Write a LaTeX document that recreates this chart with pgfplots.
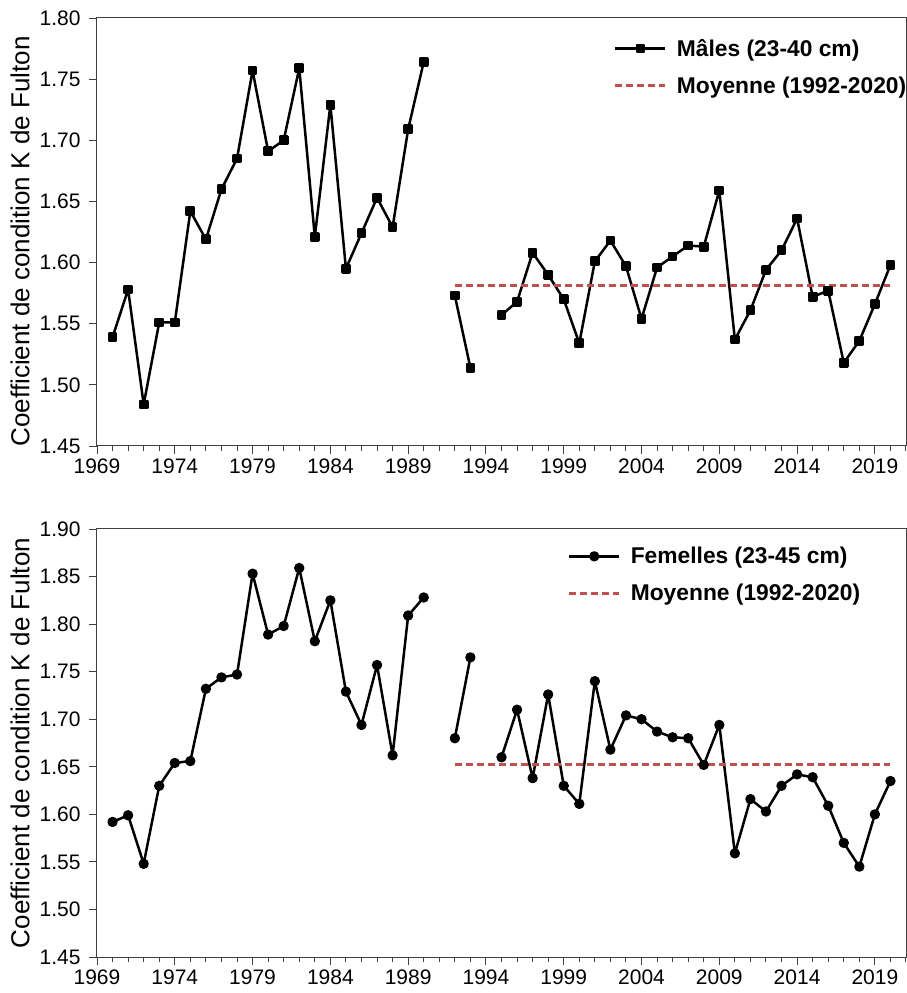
\documentclass[border=0pt]{standalone}
\usepackage{fontspec}
\setmainfont{Liberation Sans}
\usepackage{pgfplots}
\usepackage{pgfplotstable}
\pgfplotsset{compat=1.18}
\definecolor{moyred}{RGB}{192,80,77}
\definecolor{axgray}{RGB}{64,64,64}

\pgfplotstableread{
year males
1970 1.539
1971 1.578
1972 1.484
1973 1.551
1974 1.551
1975 1.642
1976 1.619
1977 1.660
1978 1.685
1979 1.757
1980 1.691
1981 1.700
1982 1.759
1983 1.621
1984 1.729
1985 1.595
1986 1.624
1987 1.653
1988 1.629
1989 1.709
1990 1.764
1991 nan
1992 1.573
1993 1.514
1994 nan
1995 1.557
1996 1.568
1997 1.608
1998 1.590
1999 1.570
2000 1.534
2001 1.601
2002 1.618
2003 1.597
2004 1.554
2005 1.596
2006 1.605
2007 1.614
2008 1.613
2009 1.659
2010 1.537
2011 1.561
2012 1.594
2013 1.610
2014 1.636
2015 1.572
2016 1.577
2017 1.518
2018 1.536
2019 1.566
2020 1.598
}\males

\pgfplotstableread{
year females
1970 1.592
1971 1.599
1972 1.548
1973 1.630
1974 1.654
1975 1.656
1976 1.732
1977 1.744
1978 1.747
1979 1.853
1980 1.789
1981 1.798
1982 1.859
1983 1.782
1984 1.825
1985 1.729
1986 1.694
1987 1.757
1988 1.662
1989 1.809
1990 1.828
1991 nan
1992 1.680
1993 1.765
1994 nan
1995 1.660
1996 1.710
1997 1.638
1998 1.726
1999 1.630
2000 1.611
2001 1.740
2002 1.668
2003 1.704
2004 1.700
2005 1.687
2006 1.681
2007 1.680
2008 1.652
2009 1.694
2010 1.559
2011 1.616
2012 1.603
2013 1.630
2014 1.642
2015 1.639
2016 1.609
2017 1.570
2018 1.545
2019 1.600
2020 1.635
}\females

\pgfplotsset{
  myaxis/.style={
    scale only axis, width=809pt, height=428pt,
    xmin=1969, xmax=2021,
    xtick={1969,1974,...,2019},
    minor xtick={1969,...,2021},
    tick align=outside,
    tick pos=left,
    major tick length=8pt, minor tick length=5pt,
    axis line style={line width=1pt, axgray},
    every tick/.style={axgray, line width=0.9pt},
    tick label style={font=\fontsize{21}{25}\selectfont},
    /pgf/number format/assume math mode=true,
    xticklabel style={/pgf/number format/1000 sep={}, yshift=-1pt},
    yticklabel style={/pgf/number format/.cd, fixed, fixed zerofill, precision=2, /tikz/.cd, xshift=-5pt},
    ylabel={Coefficient de condition K de Fulton},
    ylabel style={font=\fontsize{26}{30}\selectfont, anchor=center},
    unbounded coords=jump,
    legend style={draw=none, fill=none, font=\bfseries\fontsize{22.8}{26}\selectfont, row sep=15pt,
      /tikz/every odd column/.append style={column sep=8pt}},
    legend cell align=left,
    legend image code/.code={\draw[mark repeat=2,mark phase=2,##1] plot coordinates {(0pt,0pt)(25pt,0pt)(50pt,0pt)};},
  }
}

\begin{document}
\begin{tikzpicture}
\path[use as bounding box] (-97pt,-36pt) rectangle (810pt,957pt);
\begin{axis}[myaxis, at={(0pt,511pt)}, anchor=south west,
  ymin=1.45, ymax=1.80, ytick={1.45,1.50,...,1.801},
  ylabel style={at={(axis description cs:-0.0952,0.478)}},
  legend style={at={(axis description cs:0.635,0.960)}, anchor=north west}]
\addplot[black, line width=2.5pt, line join=round, mark=square*, mark size=3.6pt] table[x=year, y=males] {\males};
\addlegendentry{Mâles (23-40 cm)}
\addplot[moyred, dashed, dash pattern=on 7pt off 4pt, line width=3pt] coordinates {(1992,1.581) (2020,1.581)};
\addlegendentry{Moyenne (1992-2020)}
\end{axis}
\begin{axis}[myaxis, at={(0pt,0pt)}, anchor=south west,
  ymin=1.45, ymax=1.90, ytick={1.45,1.50,...,1.901},
  ylabel style={at={(axis description cs:-0.0952,0.5)}},
  legend style={at={(axis description cs:0.578,0.967)}, anchor=north west}]
\addplot[black, line width=2.5pt, line join=round, mark=*, mark size=3.9pt] table[x=year, y=females] {\females};
\addlegendentry{Femelles (23-45 cm)}
\addplot[moyred, dashed, dash pattern=on 7pt off 4pt, line width=3pt] coordinates {(1992,1.652) (2020,1.652)};
\addlegendentry{Moyenne (1992-2020)}
\end{axis}
\end{tikzpicture}
\end{document}
